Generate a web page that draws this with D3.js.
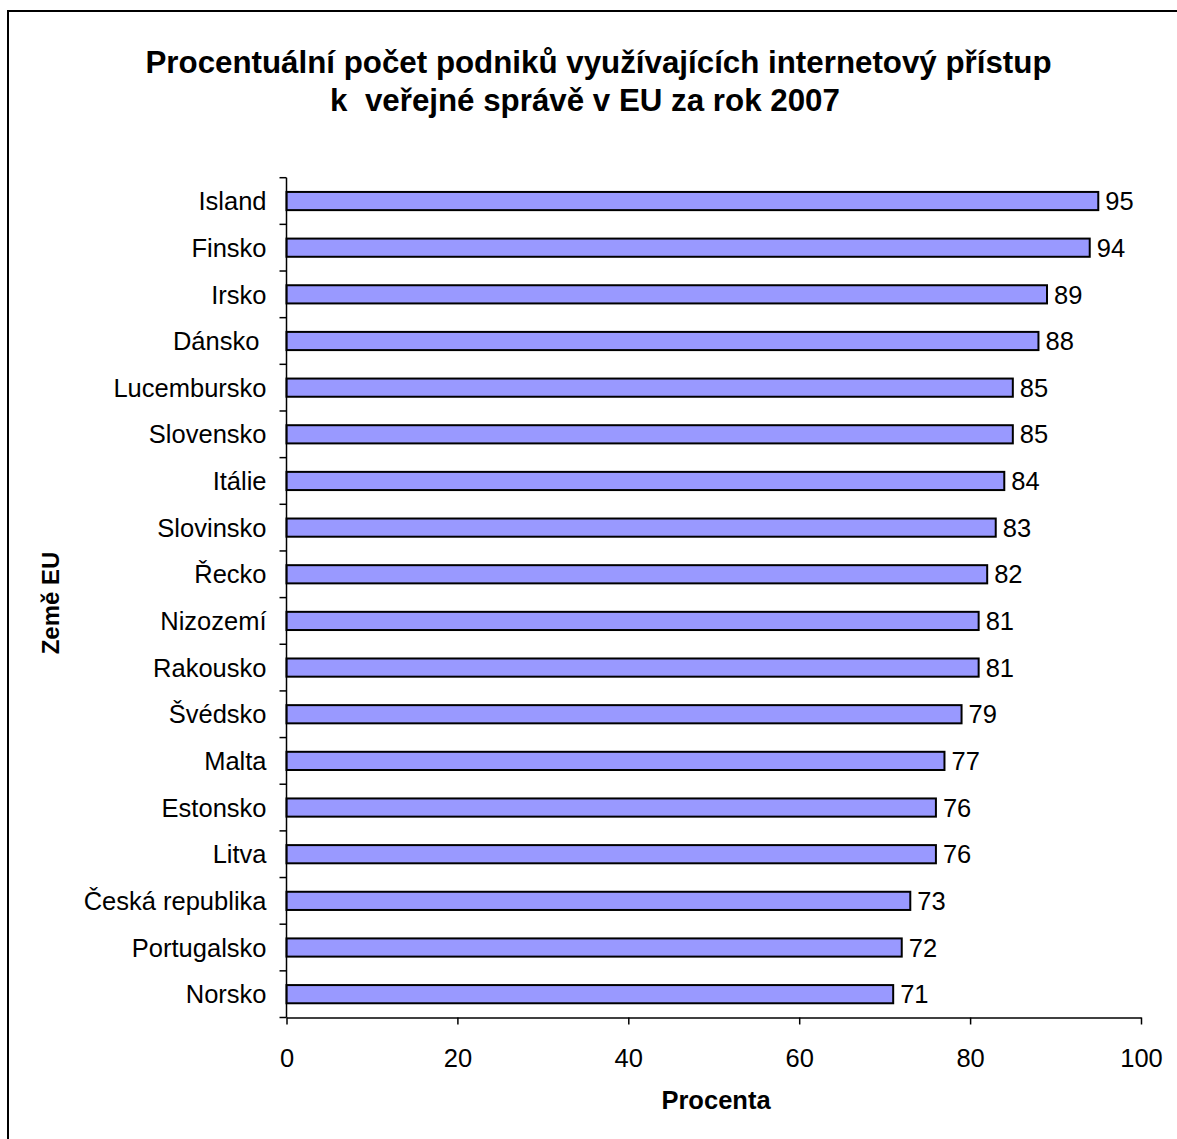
<!DOCTYPE html>
<html><head><meta charset="utf-8">
<script src="https://cdn.jsdelivr.net/npm/d3@7"></script>
<style>body{margin:0;background:#fff}svg{display:block}text{font-family:"Liberation Sans",Arial,sans-serif;fill:#000;white-space:pre}</style>
</head><body>
<script>
const categories = ["Island","Finsko","Irsko","Dánsko ","Lucembursko","Slovensko","Itálie","Slovinsko","Řecko","Nizozemí","Rakousko","Švédsko","Malta","Estonsko","Litva","Česká republika","Portugalsko","Norsko"];
const values = [95,94,89,88,85,85,84,83,82,81,81,79,77,76,76,73,72,71];
const xTicks = [0,20,40,60,80,100];
const titleLines = ["Procentuální počet podniků využívajících internetový přístup","k  veřejné správě v EU za rok 2007"];
const xTitle = "Procenta";
const yTitle = "Země EU";

const W = 1177, H = 1139;
const FS = 25.5;
const svg = d3.select("body").append("svg").attr("width", W).attr("height", H);
svg.append("rect").attr("x",8).attr("y",11).attr("width",W+20).attr("height",H+20)
  .attr("fill","#fff").attr("stroke","#000").attr("stroke-width",2);

const L = 286.5, R = 1141, T = 177.7, B = 1017.5;
const x = d3.scaleLinear().domain([0,100]).range([L,R]);
const y = d3.scaleBand().domain(categories).range([T,B]).paddingInner(0.61).paddingOuter(0.305);
const yb = d3.scaleBand().domain(categories).range([T,B]);

// title
const titleX = [598.5, 585];
svg.append("g").selectAll("text").data(titleLines).join("text")
  .attr("x",(d,i)=>titleX[i]).attr("y",(d,i)=>73+i*38).attr("text-anchor","middle")
  .attr("font-size",31.3).attr("font-weight","bold").text(d=>d);

// bars
svg.append("g").selectAll("rect").data(values).join("rect")
  .attr("x", x(0)).attr("y",(d,i)=>y(categories[i]))
  .attr("width", d=>x(d)-x(0)).attr("height", y.bandwidth())
  .attr("fill","#9999ff").attr("stroke","#000").attr("stroke-width",2);

// value labels
svg.append("g").selectAll("text").data(values).join("text")
  .attr("x", d=>x(d)+7).attr("y",(d,i)=>y(categories[i])+y.bandwidth()/2)
  .attr("dy","0.36em").attr("font-size",FS).text(d=>d);

// x axis
const xa = svg.append("g").attr("transform",`translate(0,${B})`)
  .call(d3.axisBottom(x).tickValues(xTicks).tickSize(7).tickPadding(24).tickSizeOuter(0));
xa.select(".domain").attr("stroke","#000").attr("stroke-width",1.5);
xa.selectAll(".tick line").attr("stroke","#000").attr("stroke-width",1.5);
xa.selectAll("text").attr("font-size",FS).attr("font-family","Liberation Sans, Arial, sans-serif").attr("fill","#000");

// y axis: line + ticks at category boundaries
const ya = svg.append("g");
ya.append("line").attr("x1",L).attr("x2",L).attr("y1",T).attr("y2",B).attr("stroke","#000").attr("stroke-width",1.5);
const bounds = categories.map(c=>yb(c)).concat([B]);
ya.selectAll("line.t").data(bounds).join("line").attr("class","t")
  .attr("x1",L-7).attr("x2",L).attr("y1",d=>d).attr("y2",d=>d).attr("stroke","#000").attr("stroke-width",1.5);
ya.selectAll("text").data(categories).join("text")
  .attr("x",L-20).attr("y",d=>yb(d)+yb.bandwidth()/2).attr("dy","0.36em")
  .attr("text-anchor","end").attr("font-size",FS).text(d=>d);

// axis titles
svg.append("text").attr("x",716).attr("y",1109).attr("text-anchor","middle")
  .attr("font-size",FS).attr("font-weight","bold").text(xTitle);
svg.append("text").attr("transform","translate(59,603) rotate(-90)").attr("text-anchor","middle")
  .attr("font-size",24).attr("font-weight","bold").text(yTitle);
</script>
</body></html>
